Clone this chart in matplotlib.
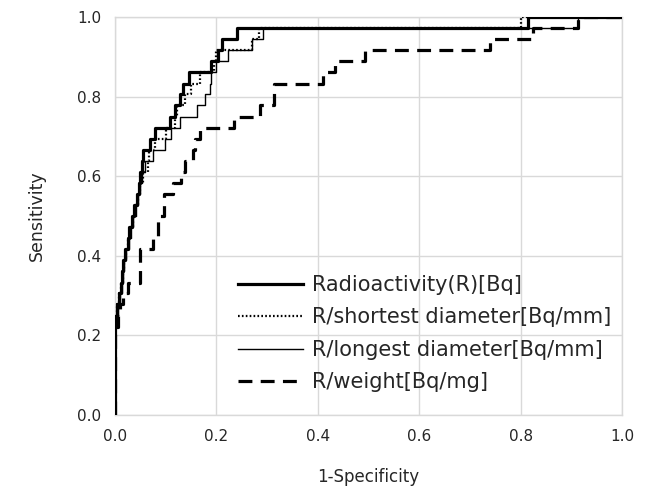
import matplotlib
matplotlib.use("Agg")
import matplotlib.pyplot as plt

plt.rcParams['font.family'] = ['DejaVu Sans']
plt.rcParams['lines.scale_dashes'] = False

# ROC vertices: fpr where each sensitivity level starts
r_fpr = [0.0, 0.0, 0.004, 0.008, 0.012, 0.014, 0.016, 0.020, 0.026, 0.028, 0.033, 0.038,
         0.043, 0.047, 0.050, 0.053, 0.056, 0.069, 0.079, 0.108, 0.118, 0.128, 0.135,
         0.145, 0.190, 0.203, 0.210, 0.240, 0.815, 1.0]
r_tpr = [0.0, 0.250, 0.278, 0.306, 0.333, 0.361, 0.389, 0.417, 0.444, 0.472, 0.500, 0.528,
         0.556, 0.583, 0.611, 0.639, 0.667, 0.694, 0.722, 0.750, 0.778, 0.806, 0.833,
         0.861, 0.889, 0.917, 0.944, 0.972, 1.000, 1.000]

s_fpr = [0.0, 0.0, 0.004, 0.008, 0.012, 0.015, 0.018, 0.022, 0.026, 0.030, 0.035, 0.040,
         0.046, 0.050, 0.055, 0.066, 0.067, 0.079, 0.100, 0.118, 0.122, 0.138, 0.150,
         0.168, 0.195, 0.200, 0.270, 0.283, 0.800, 1.0]
s_tpr = [0.0, 0.250, 0.278, 0.306, 0.333, 0.361, 0.389, 0.417, 0.444, 0.472, 0.500, 0.528,
         0.556, 0.583, 0.611, 0.639, 0.667, 0.694, 0.722, 0.750, 0.778, 0.806, 0.833,
         0.861, 0.889, 0.917, 0.944, 0.972, 1.000, 1.000]

l_fpr = [0.0, 0.0, 0.005, 0.009, 0.013, 0.016, 0.018, 0.022, 0.028, 0.031, 0.036, 0.041,
         0.046, 0.050, 0.053, 0.060, 0.075, 0.098, 0.110, 0.128, 0.161, 0.178, 0.187,
         0.190, 0.200, 0.223, 0.270, 0.292, 0.913, 1.0]
l_tpr = [0.0, 0.250, 0.278, 0.306, 0.333, 0.361, 0.389, 0.417, 0.444, 0.472, 0.500, 0.528,
         0.556, 0.583, 0.611, 0.639, 0.667, 0.694, 0.722, 0.750, 0.778, 0.806, 0.833,
         0.861, 0.889, 0.917, 0.944, 0.972, 1.000, 1.000]

w_fpr = [0.0, 0.0, 0.005, 0.010, 0.015, 0.025, 0.050, 0.074, 0.085, 0.097, 0.115, 0.131,
         0.138, 0.154, 0.158, 0.168, 0.235, 0.286, 0.314, 0.410, 0.434, 0.493, 0.740,
         0.825, 0.913, 1.0]
w_tpr = [0.0, 0.222, 0.250, 0.278, 0.306, 0.333, 0.417, 0.444, 0.500, 0.556, 0.583, 0.611,
         0.639, 0.667, 0.694, 0.722, 0.750, 0.778, 0.833, 0.861, 0.889, 0.917, 0.944,
         0.972, 1.000, 1.000]

labels = ["Radioactivity(R)[Bq]", "R/shortest diameter[Bq/mm]",
          "R/longest diameter[Bq/mm]", "R/weight[Bq/mg]"]
ticks = [0.0, 0.2, 0.4, 0.6, 0.8, 1.0]

fig = plt.figure(figsize=(6.48, 4.90), dpi=100)
ax = fig.add_axes([0.1775, 0.153, 0.7825, 0.812])

ax.step(r_fpr, r_tpr, where='post', color='black', lw=2.3, label=labels[0], zorder=5)
ax.step(s_fpr, s_tpr, where='post', color='black', lw=1.6, linestyle=(0, (1.2, 1.6)),
        label=labels[1], zorder=4)
ax.step(l_fpr, l_tpr, where='post', color='black', lw=1.0, label=labels[2], zorder=3)
ax.step(w_fpr, w_tpr, where='post', color='black', lw=2.3, linestyle=(0, (10, 6)),
        label=labels[3], zorder=2)

ax.set_xlim(0, 1)
ax.set_ylim(0, 1)
ax.set_xticks(ticks)
ax.set_yticks(ticks)
ax.set_xticklabels([f"{t:.1f}" for t in ticks])
ax.set_yticklabels([f"{t:.1f}" for t in ticks])
ax.grid(True, color='#d9d9d9', lw=1.0)
ax.set_axisbelow(True)
for sp in ax.spines.values():
    sp.set_color('#d9d9d9')
    sp.set_linewidth(1.0)
ax.tick_params(length=0, labelsize=11, colors='#262626', pad=10)

ax.set_xlabel("1-Specificity", fontsize=12, color='#262626', labelpad=17)
ax.set_ylabel("Sensitivity", fontsize=12.5, color='#262626', labelpad=22)

leg = ax.legend(loc='upper left', bbox_to_anchor=(0.243, 0.352), frameon=False,
                fontsize=15, handlelength=3.1, handletextpad=0.42, labelspacing=0.6,
                borderaxespad=0.0, borderpad=0.0)
for t in leg.get_texts():
    t.set_color('#262626')

fig.savefig("out.png", dpi=100)
